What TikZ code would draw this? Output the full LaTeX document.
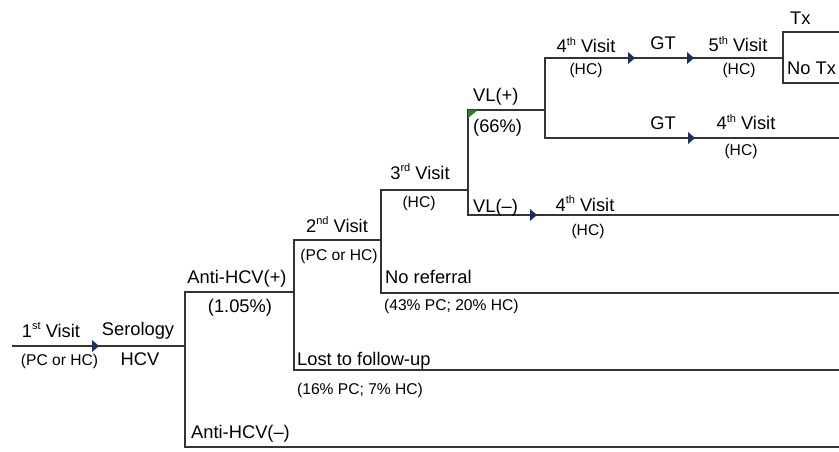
\documentclass[tikz,border=0pt]{standalone}
\usepackage{fontspec}
\setmainfont{Liberation Sans}
\newcommand\sups[1]{\raisebox{0.42em}{\fontsize{11}{11}\selectfont #1}}
\definecolor{navy}{HTML}{1B2F63}
\definecolor{darkgreen}{HTML}{2E7A2E}
\begin{document}
\begin{tikzpicture}[x=1pt,y=-1pt,
  br/.style={draw=black!80,line width=1.6pt,line join=miter},
  big/.style={inner sep=0pt,font=\fontsize{18.3}{20}\selectfont},
  sml/.style={inner sep=0pt,font=\fontsize{15.6}{18}\selectfont},
  mk/.pic={\fill[navy] (-7,-6) -- (0,0) -- (-7,6) -- cycle;}]
\useasboundingbox (0,0) rectangle (839,452);
% junction coordinates
\coordinate (r0) at (12,346);
\coordinate (r1) at (185,346);
\coordinate (j1top) at (185,292); \coordinate (j1bot) at (185,447); \coordinate (eneg) at (839,447);
\coordinate (a1) at (294,292);
\coordinate (j2top) at (294,240); \coordinate (j2bot) at (294,370); \coordinate (elost) at (839,370);
\coordinate (b1) at (381,240);
\coordinate (j3top) at (381,190); \coordinate (j3bot) at (381,293); \coordinate (enoref) at (839,293);
\coordinate (c1) at (468,190);
\coordinate (j4top) at (468,110); \coordinate (j4bot) at (468,215); \coordinate (evlneg) at (839,215);
\coordinate (d1) at (545,110);
\coordinate (j5top) at (545,58); \coordinate (j5bot) at (545,138); \coordinate (egt) at (839,138);
\coordinate (f1) at (783,58);
\coordinate (j6top) at (783,32); \coordinate (j6bot) at (783,83);
\coordinate (etx) at (839,32); \coordinate (enotx) at (839,83);
% branches
\draw[br] (r0) -- (r1);
\draw[br] (a1) -- (j1top) -- (j1bot) -- (eneg);
\draw[br] (b1) -- (j2top) -- (j2bot) -- (elost);
\draw[br] (a1) -- (j2top);
\draw[br] (c1) -- (j3top) -- (j3bot) -- (enoref);
\draw[br] (d1) -- (j4top) -- (j4bot) -- (evlneg);
\draw[br] (f1) -- (j5top) -- (j5bot) -- (egt);
\draw[br] (etx) -- (j6top) -- (j6bot) -- (enotx);
% markers
\pic at (99,346) {mk};
\pic at (537,215) {mk};
\pic at (635,58) {mk};
\pic at (694,58) {mk};
\pic at (695,138) {mk};
\fill[darkgreen] (j4top) -- ++(10,0) -- ++(-10,8) -- cycle;
% labels
\node[big,anchor=base] (l1) at (51,337) {1\sups{st} Visit};
\node[sml,anchor=base] (l1b) at (59.5,365) {(PC or HC)};
\node[big,anchor=base] (lser) at (138,335) {Serology};
\node[big,anchor=base] (lhcv) at (140,365) {HCV};
\node[big,anchor=base] (lpos) at (237,283) {Anti-HCV(+)};
\node[big,anchor=base] (lposp) at (240,312) {(1.05\%)};
\node[big,anchor=base west] (lneg) at (191,438) {Anti-HCV(–)};
\node[big,anchor=base] (l2) at (337,232) {2\sups{nd} Visit};
\node[sml,anchor=base] (l2b) at (339,260) {(PC or HC)};
\node[big,anchor=base west] (lnoref) at (385,283) {No referral};
\node[sml,anchor=base west] (lnorefp) at (384,310) {(43\% PC; 20\% HC)};
\node[big,anchor=base west] (llost) at (297,365) {Lost to follow-up};
\node[sml,anchor=base west] (llostp) at (297,394) {(16\% PC; 7\% HC)};
\node[big,anchor=base] (l3) at (420,179) {3\sups{rd} Visit};
\node[sml,anchor=base] (l3b) at (419,207) {(HC)};
\node[big,anchor=base west] (lvlp) at (473,102) {VL(+)};
\node[big,anchor=base west] (lvlpp) at (473,132) {(66\%)};
\node[big,anchor=base west] (lvln) at (473,212) {VL(–)};
\node[big,anchor=base] (l4c) at (585,211) {4\sups{th} Visit};
\node[sml,anchor=base] (l4cb) at (588,235) {(HC)};
\node[big,anchor=base] (l4a) at (586,53) {4\sups{th} Visit};
\node[sml,anchor=base] (l4ab) at (586,75) {(HC)};
\node[big,anchor=base] (lgta) at (663,50) {GT};
\node[big,anchor=base] (l5) at (738,52) {5\sups{th} Visit};
\node[sml,anchor=base] (l5b) at (739,75) {(HC)};
\node[big,anchor=base west] (ltx) at (790,25) {Tx};
\node[big,anchor=base west] (lnotx) at (787,75) {No Tx};
\node[big,anchor=base] (lgtb) at (663,130) {GT};
\node[big,anchor=base] (l4b) at (746,130) {4\sups{th} Visit};
\node[sml,anchor=base] (l4bb) at (741,155) {(HC)};
\end{tikzpicture}
\end{document}
